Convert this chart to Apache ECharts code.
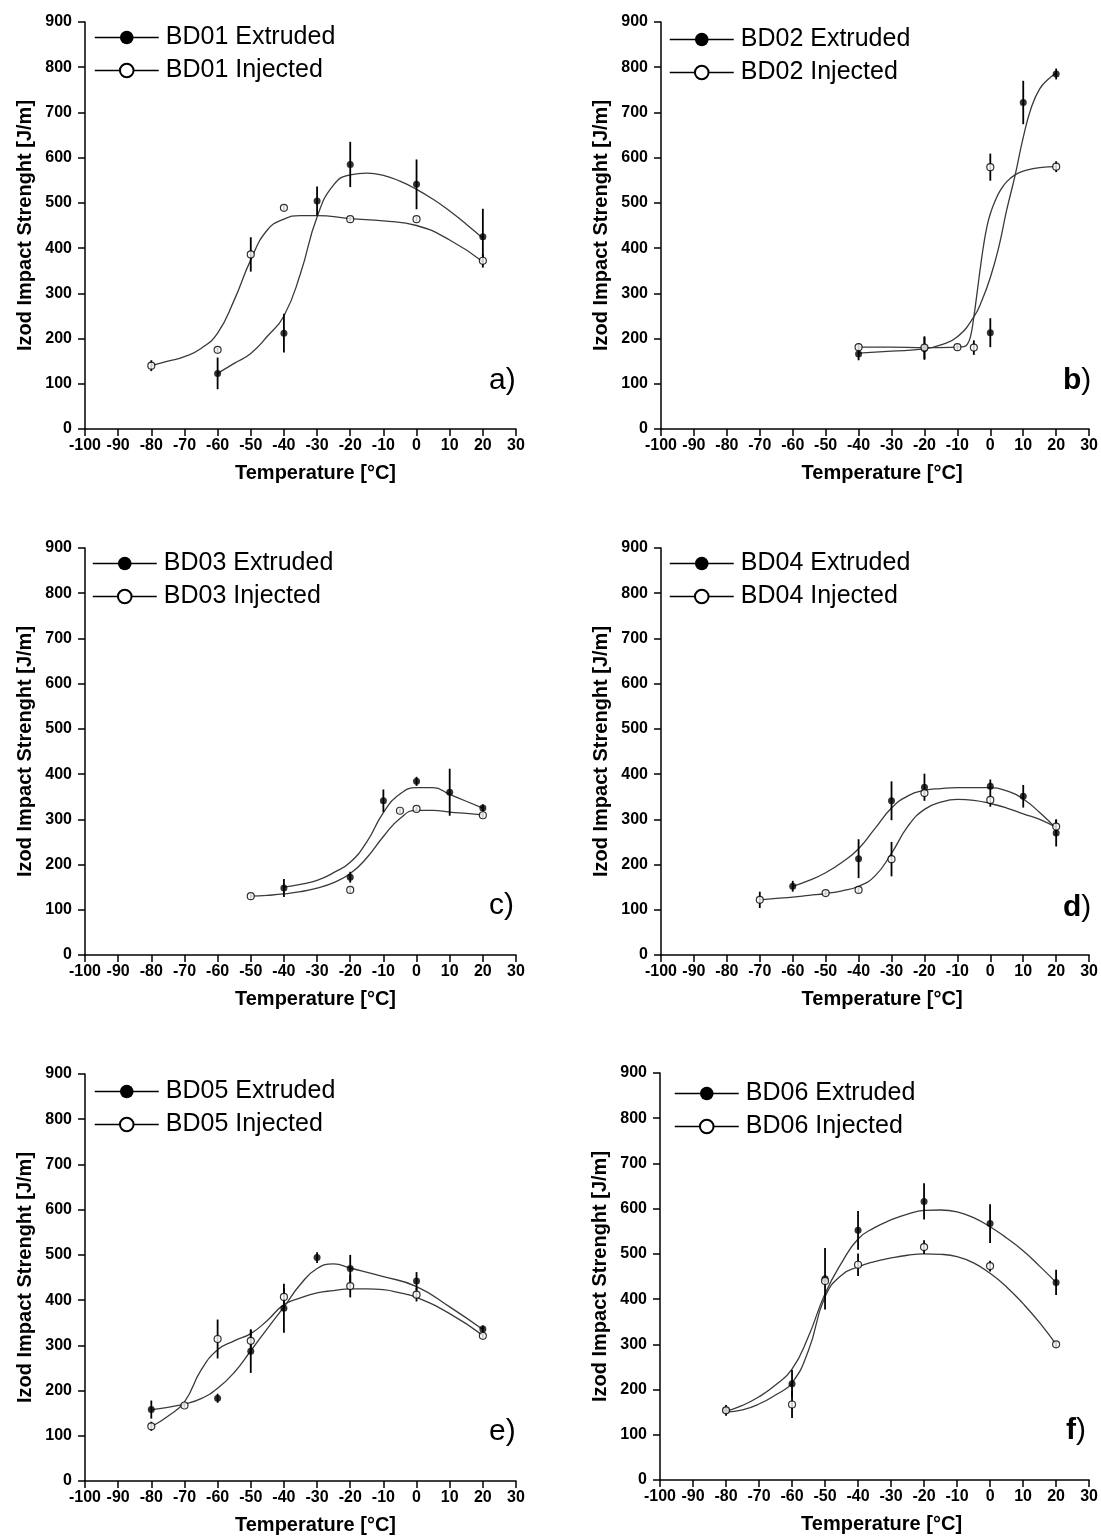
<!DOCTYPE html>
<html><head><meta charset="utf-8">
<script src="https://cdn.jsdelivr.net/npm/echarts@6/dist/echarts.min.js"></script>
<style>html,body{margin:0;padding:0;background:#fff}#c{width:1101px;height:1536px}</style>
</head><body><div id="c"></div>
<script>
// ---- axis ticks ----
const xTickMin = -100, xTickMax = 30, xTickStep = 10;
const yTickMin = 0, yTickMax = 900, yTickStep = 100;
const xAxisTitle = 'Temperature [°C]';
const yAxisTitle = 'Izod Impact Strenght [J/m]';
const panelLetters = ['a', 'b', 'c', 'd', 'e', 'f'];
const panelBold = [false, true, false, true, false, true];
const materials = ['BD01', 'BD02', 'BD03', 'BD04', 'BD05', 'BD06'];

// ---- panel a (BD01) ----
const aExtT = [-60, -40, -30, -20, 0, 20];
const aExtV = [123, 212, 504, 585, 541, 425];
const aExtE = [35, 43, 32, 50, 55, 62];
const aInjT = [-80, -60, -50, -40, -20, 0, 20];
const aInjV = [140, 175, 386, 489, 464, 464, 372];
const aInjE = [12, 5, 38, 5, 5, 5, 15];
const aExtFitT = [-60, -55, -50, -45, -40, -35, -30, -25, -20, -15, -10, -5, 0, 5, 10, 15, 20];
const aExtFitV = [123, 145, 167, 205, 250, 344, 469, 540, 562, 566, 561, 548, 530, 508, 482, 453, 422];
const aInjFitT = [-80, -75, -70, -65, -60, -55, -50, -45, -40, -35, -30, -20, -10, 0, 10, 20];
const aInjFitV = [140, 150, 160, 178, 212, 285, 374, 440, 464, 472, 472, 465, 460, 450, 418, 370];

// ---- panel b (BD02) ----
const bExtT = [-40, -20, 0, 10, 20];
const bExtV = [166, 178, 213, 722, 785];
const bExtE = [14, 25, 32, 48, 12];
const bInjT = [-40, -20, -10, -5, 0, 20];
const bInjV = [181, 180, 181, 180, 579, 580];
const bInjE = [8, 25, 6, 16, 30, 12];
const bExtFitT = [-40, -30, -20, -15, -10, -5, -2.5, 0, 2.5, 5, 7.5, 10, 12.5, 15, 17.5, 20];
const bExtFitV = [168, 172, 177, 186, 204, 248, 285, 335, 400, 485, 560, 645, 712, 752, 773, 787];
const bInjFitT = [-40, -30, -20, -10, -8, -7, -6, -5, -4, -3, -2, -1, 0, 1.5, 3, 5, 7.5, 10, 15, 20];
const bInjFitV = [181, 181, 180, 181, 182, 187, 205, 248, 302, 358, 408, 448, 476, 505, 527, 547, 562, 570, 578, 580];

// ---- panel c (BD03) ----
const cExtT = [-40, -20, -10, 0, 10, 20];
const cExtV = [148, 172, 341, 384, 360, 325];
const cExtE = [20, 12, 25, 10, 52, 8];
const cInjT = [-50, -20, -5, 0, 20];
const cInjV = [130, 144, 319, 323, 309];
const cInjE = [5, 6, 5, 5, 5];
const cExtFitT = [-40, -35, -30, -25, -20, -15, -10, -5, 0, 5, 10, 15, 20];
const cExtFitV = [150, 156, 165, 182, 205, 250, 315, 356, 370, 370, 355, 340, 325];
const cInjFitT = [-50, -45, -40, -35, -30, -25, -20, -15, -10, -5, 0, 5, 10, 15, 20];
const cInjFitV = [130, 132, 135, 140, 148, 160, 180, 215, 262, 302, 320, 320, 316, 313, 310];

// ---- panel d (BD04) ----
const dExtT = [-60, -40, -30, -20, 0, 10, 20];
const dExtV = [152, 213, 341, 371, 373, 351, 270];
const dExtE = [12, 43, 43, 30, 15, 25, 30];
const dInjT = [-70, -50, -40, -30, -20, 0, 20];
const dInjV = [122, 137, 144, 212, 358, 343, 284];
const dInjE = [18, 5, 6, 38, 6, 15, 15];
const dExtFitT = [-60, -55, -50, -45, -40, -35, -30, -25, -20, -15, -10, -5, 0, 5, 10, 15, 20];
const dExtFitV = [152, 165, 182, 205, 235, 280, 325, 352, 364, 368, 370, 370, 370, 363, 345, 315, 280];
const dInjFitT = [-70, -65, -60, -55, -50, -45, -40, -35, -30, -25, -20, -15, -10, -5, 0, 5, 10, 15, 20];
const dInjFitV = [122, 125, 128, 132, 136, 142, 152, 175, 225, 285, 322, 338, 344, 342, 335, 325, 312, 300, 282];

// ---- panel e (BD05) ----
const eExtT = [-80, -60, -50, -40, -30, -20, 0, 20];
const eExtV = [158, 183, 287, 382, 494, 470, 442, 336];
const eExtE = [20, 10, 48, 54, 12, 30, 20, 8];
const eInjT = [-80, -70, -60, -50, -40, -20, 0, 20];
const eInjV = [121, 167, 314, 310, 407, 431, 412, 321];
const eInjE = [10, 5, 43, 25, 20, 25, 15, 5];
const eExtFitT = [-80, -75, -70, -65, -60, -55, -50, -45, -40, -35, -30, -25, -20, -10, 0, 10, 20];
const eExtFitV = [158, 163, 170, 182, 205, 240, 288, 337, 385, 435, 470, 480, 471, 452, 430, 385, 335];
const eInjFitT = [-80, -75, -70, -65, -60, -55, -50, -45, -40, -35, -30, -25, -20, -15, -10, -5, 0, 10, 20];
const eInjFitV = [120, 143, 175, 245, 290, 310, 326, 355, 390, 405, 416, 421, 425, 425, 423, 416, 406, 370, 322];

// ---- panel f (BD06) ----
const fExtT = [-80, -60, -50, -40, -20, 0, 20];
const fExtV = [154, 213, 445, 552, 616, 567, 437];
const fExtE = [12, 30, 68, 43, 40, 43, 28];
const fInjT = [-80, -60, -50, -40, -20, 0, 20];
const fInjV = [154, 167, 440, 476, 515, 473, 300];
const fInjE = [6, 30, 6, 25, 15, 12, 6];
const fExtFitT = [-80, -75, -70, -65, -60, -55, -50, -45, -40, -35, -30, -25, -20, -15, -10, -5, 0, 5, 10, 15, 20];
const fExtFitV = [152, 165, 184, 210, 245, 318, 412, 480, 533, 558, 575, 588, 596, 597, 593, 580, 560, 535, 507, 473, 437];
const fInjFitT = [-80, -75, -70, -65, -60, -55, -50, -45, -40, -35, -30, -25, -20, -15, -10, -5, 0, 5, 10, 15, 20];
const fInjFitV = [150, 155, 168, 188, 215, 287, 405, 453, 471, 483, 491, 497, 500, 499, 494, 480, 457, 427, 390, 348, 300];

const panels = [
  {ext:[aExtT,aExtV,aExtE], inj:[aInjT,aInjV,aInjE], extFit:[aExtFitT,aExtFitV], injFit:[aInjFitT,aInjFitV]},
  {ext:[bExtT,bExtV,bExtE], inj:[bInjT,bInjV,bInjE], extFit:[bExtFitT,bExtFitV], injFit:[bInjFitT,bInjFitV]},
  {ext:[cExtT,cExtV,cExtE], inj:[cInjT,cInjV,cInjE], extFit:[cExtFitT,cExtFitV], injFit:[cInjFitT,cInjFitV]},
  {ext:[dExtT,dExtV,dExtE], inj:[dInjT,dInjV,dInjE], extFit:[dExtFitT,dExtFitV], injFit:[dInjFitT,dInjFitV]},
  {ext:[eExtT,eExtV,eExtE], inj:[eInjT,eInjV,eInjE], extFit:[eExtFitT,eExtFitV], injFit:[eInjFitT,eInjFitV]},
  {ext:[fExtT,fExtV,fExtE], inj:[fInjT,fInjV,fInjE], extFit:[fExtFitT,fExtFitV], injFit:[fInjFitT,fInjFitV]}
];

// ---- layout (pixels) ----
const grids = [
  {left: 85, top: 22, width: 431, height: 407},
  {left: 661, top: 22, width: 430, height: 407},
  {left: 85, top: 548, width: 431, height: 407},
  {left: 661, top: 548, width: 430, height: 407},
  {left: 85, top: 1074, width: 431, height: 407},
  {left: 660, top: 1073, width: 431, height: 407}
];
const legendPos = [[94, 25], [669, 27], [92, 551], [669, 551], [94, 1079], [674, 1081]];
const letterPos = [[489, 366], [1063, 366], [489, 891], [1063, 893], [489, 1417], [1066, 1416]];

const tickFont = "'Liberation Sans', Arial, sans-serif";
const mainFont = "'Liberation Sans', Arial, sans-serif";

const option = {
  animation: false,
  backgroundColor: '#fff',
  grid: [], xAxis: [], yAxis: [], series: [], legend: [], title: []
};

function zip(t, v) { return t.map((x, i) => [x, v[i]]); }
function zip3(t, v, e) { return t.map((x, i) => [x, v[i], e[i]]); }

const errRender = function (params, api) {
  const x = api.value(0), v = api.value(1), e = api.value(2);
  const p1 = api.coord([x, v - e]);
  const p2 = api.coord([x, v + e]);
  return {type: 'line', shape: {x1: p1[0], y1: p1[1], x2: p2[0], y2: p2[1]},
          style: {stroke: '#000', lineWidth: 1.8}};
};

panels.forEach((p, i) => {
  const g = grids[i];
  option.grid.push({left: g.left, top: g.top, width: g.width, height: g.height, containLabel: false});
  option.xAxis.push({
    type: 'value', gridIndex: i, min: xTickMin, max: xTickMax, interval: xTickStep,
    axisLine: {onZero: false, lineStyle: {color: '#000', width: 1.5}},
    axisTick: {show: true, length: 7, lineStyle: {color: '#000', width: 1.5}},
    axisLabel: {color: '#000', fontSize: 16, fontWeight: 'bold', fontFamily: tickFont, margin: 9,
                interval: 0, hideOverlap: false, showMinLabel: true, showMaxLabel: true},
    splitLine: {show: false},
    name: xAxisTitle, nameLocation: 'middle', nameGap: 34,
    nameTextStyle: {color: '#000', fontSize: 20, fontWeight: 'bold', fontFamily: mainFont, padding: [0, 0, 0, i % 2 ? 14 : 30]}
  });
  option.yAxis.push({
    type: 'value', gridIndex: i, min: yTickMin, max: yTickMax, interval: yTickStep,
    axisLine: {show: true, onZero: false, lineStyle: {color: '#000', width: 1.5}},
    axisTick: {show: true, length: 7, lineStyle: {color: '#000', width: 1.5}},
    axisLabel: {color: '#000', fontSize: 16, fontWeight: 'bold', fontFamily: tickFont, margin: 13,
                interval: 0, hideOverlap: false},
    splitLine: {show: false},
    name: yAxisTitle, nameLocation: 'middle', nameGap: 50,
    nameTextStyle: {color: '#000', fontSize: 20, fontWeight: 'bold', fontFamily: mainFont}
  });
  const extName = materials[i] + ' Extruded';
  const injName = materials[i] + ' Injected';
  // fitted curves (carry legend entries)
  option.series.push({
    name: extName, type: 'line', xAxisIndex: i, yAxisIndex: i,
    data: zip(p.extFit[0], p.extFit[1]), smooth: 0.5,
    symbol: 'circle', showSymbol: false, z: 3, silent: true,
    itemStyle: {color: '#000'}, lineStyle: {color: '#3a3a3a', width: 1.3}
  });
  option.series.push({
    name: injName, type: 'line', xAxisIndex: i, yAxisIndex: i,
    data: zip(p.injFit[0], p.injFit[1]), smooth: 0.5,
    symbol: 'circle', showSymbol: false, z: 3, silent: true,
    itemStyle: {color: '#fff', borderColor: '#000', borderWidth: 1.5}, lineStyle: {color: '#3a3a3a', width: 1.3}
  });
  // error bars
  option.series.push({
    type: 'custom', xAxisIndex: i, yAxisIndex: i, renderItem: errRender, z: 4, silent: true,
    data: zip3(p.ext[0], p.ext[1], p.ext[2])
  });
  option.series.push({
    type: 'custom', xAxisIndex: i, yAxisIndex: i, renderItem: errRender, z: 4, silent: true,
    data: zip3(p.inj[0], p.inj[1], p.inj[2])
  });
  // measured points
  option.series.push({
    type: 'scatter', xAxisIndex: i, yAxisIndex: i, symbol: 'circle', symbolSize: 7, z: 6,
    data: zip(p.ext[0], p.ext[1]), itemStyle: {color: '#000'}
  });
  option.series.push({
    type: 'scatter', xAxisIndex: i, yAxisIndex: i, symbol: 'circle', symbolSize: 7, z: 6,
    data: zip(p.inj[0], p.inj[1]), itemStyle: {color: '#fff', borderColor: '#000', borderWidth: 1.2}
  });
  option.legend.push({
    orient: 'vertical', left: legendPos[i][0], top: legendPos[i][1], padding: 0,
    itemWidth: 64, itemHeight: 17, itemGap: 8, selectedMode: false,
    data: [extName, injName],
    lineStyle: {color: '#000', width: 1.5},
    textStyle: {color: '#000', fontSize: 25, fontFamily: mainFont, padding: [0, 0, 0, 2]}
  });
  const letter = panelLetters[i];
  option.title.push({
    text: '{l|' + letter + '}{p|)}', left: letterPos[i][0], top: letterPos[i][1], padding: 0,
    textStyle: {rich: {
      l: {fontSize: 30, fontWeight: panelBold[i] ? 'bold' : 'normal', fontFamily: mainFont, color: '#000'},
      p: {fontSize: 30, fontWeight: 'normal', fontFamily: mainFont, color: '#000'}
    }}
  });
});

const chart = echarts.init(document.getElementById('c'), null, {renderer: 'canvas'});
chart.setOption(option);
</script>
</body></html>
